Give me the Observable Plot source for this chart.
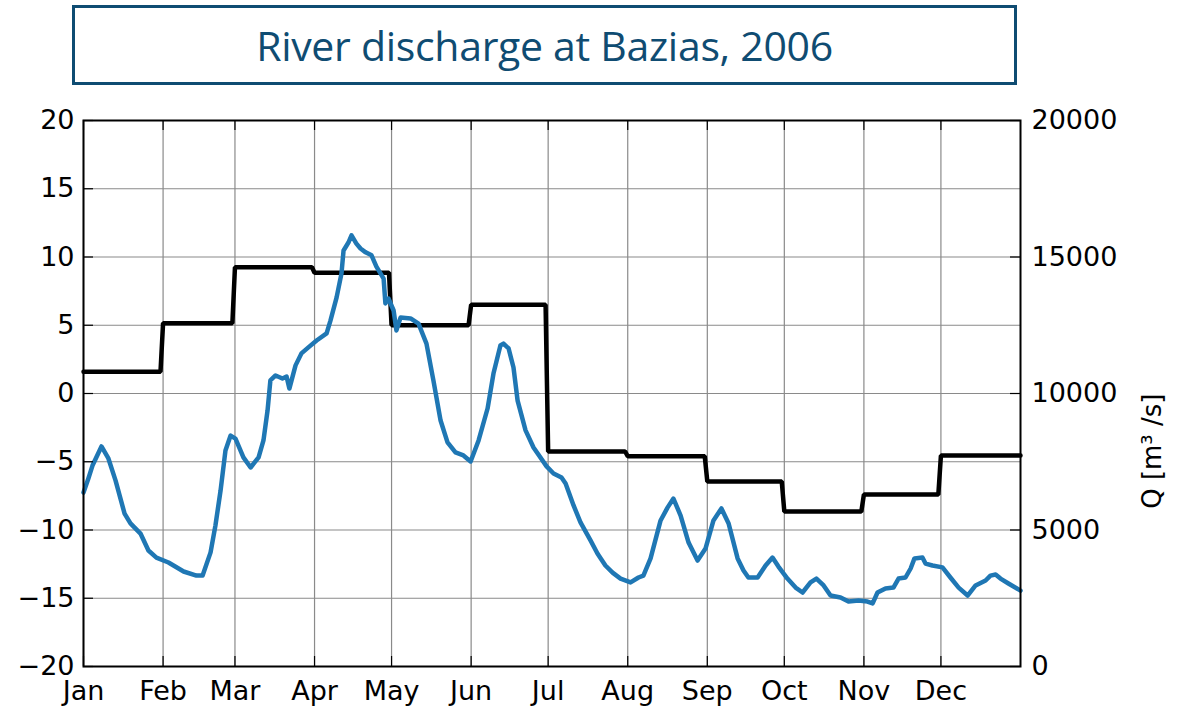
<!DOCTYPE html>
<html><head><meta charset="utf-8">
<script src="https://cdn.jsdelivr.net/npm/d3@7"></script>
<script src="https://cdn.jsdelivr.net/npm/@observablehq/plot@0.6"></script>
<style>
body{margin:0;background:#fff;width:1177px;height:709px;overflow:hidden;position:relative;}
#title{position:absolute;left:72px;top:5px;width:939px;height:74px;border:3px solid #0f4c72;display:flex;align-items:center;justify-content:center;font-family:"Open Sans";font-size:41px;color:#0f4c72;box-sizing:content-box;letter-spacing:-0.3px;}
#chart{position:absolute;left:0;top:100px;}
</style></head><body>
<div id="title">River discharge at Bazias, 2006</div>
<div id="chart"></div>
<script>
const year = 2006;
const monthNames = ["Jan","Feb","Mar","Apr","May","Jun","Jul","Aug","Sep","Oct","Nov","Dec"];
// monthly values (left axis)
const monthValue = [1.6, 5.15, 9.25, 8.85, 5.0, 6.5, -4.25, -4.6, -6.45, -8.65, -7.4, -4.55];
// daily discharge Q [m3/s]: day of year (0 = Jan 1) and value
const qDay = [0,1.9,3.5,7.0,9.7,12.5,16.0,18.3,22.2,25.3,28.4,33.1,39.0,44.0,46.4,49.5,51.4,53.4,55.3,57.3,59.2,62.3,65.1,68.2,70.1,71.7,72.8,74.8,77.5,79.1,80.2,82.6,84.9,87.6,90.8,94.7,96.2,98.6,100.5,101.3,103.2,104.4,106.3,107.9,109.9,112.2,114.1,116.9,117.6,118.8,120.8,121.9,123.5,127.4,130.5,133.6,136.3,139.1,141.8,144.9,148.0,150.8,153.9,157.4,159.7,162.4,163.6,165.6,167.5,169.1,172.2,175.3,180.4,183.1,186.2,187.8,190.9,193.6,197.5,200.2,203.3,206.1,209.2,213.1,216.2,218.1,220.9,224.8,227.5,229.8,232.6,235.7,239.2,242.3,245.4,248.5,251.3,254.8,257.1,259.0,262.6,265.7,268.4,270.7,274.2,277.4,280.1,283.2,285.5,288.3,291.0,294.9,298.0,301.9,305.4,307.4,309.3,312.4,315.5,317.5,320.2,322.2,323.7,326.8,328.0,330.7,334.6,337.7,340.9,344.4,347.5,351.4,353.3,355.3,357.2,360.3,365.0];
const qValue = [6370,6890,7360,8060,7620,6810,5600,5240,4870,4250,3990,3810,3480,3330,3330,4180,5170,6450,7910,8460,8350,7660,7290,7660,8280,9380,10480,10660,10550,10620,10180,11030,11470,11690,11940,12200,12670,13520,14400,15240,15530,15790,15490,15310,15170,15060,14650,14210,13300,13480,13040,12310,12780,12750,12560,11830,10480,9010,8210,7840,7730,7510,8280,9450,10730,11760,11830,11650,10950,9740,8650,8020,7330,7070,6920,6700,5900,5280,4620,4140,3700,3440,3220,3080,3260,3330,3960,5350,5820,6150,5530,4540,3880,4320,5350,5790,5240,3960,3520,3260,3260,3700,3990,3660,3220,2890,2710,3080,3220,2970,2600,2530,2380,2420,2380,2310,2710,2860,2890,3220,3260,3590,3960,3990,3770,3700,3630,3260,2890,2600,2970,3150,3330,3370,3220,3040,2780];
const leftTicks = [-20,-15,-10,-5,0,5,10,15,20];
const rightTicks = [0,5000,10000,15000,20000];
const yLabelRight = "Q [m\u00B3 /s]";

const DAY = 864e5;
const t0 = Date.UTC(year,0,1);
const monthStarts = d3.range(12).map(m => new Date(Date.UTC(year,m,1)));
const yearEnd = new Date(Date.UTC(year+1,0,1));
const qToLeft = q => q/500 - 20;

const steps = [];
monthValue.forEach((v,i) => {
  const s = monthStarts[i];
  const e = i < 11 ? new Date(+monthStarts[i+1] - DAY) : yearEnd;
  steps.push({date: s, v}, {date: e, v});
});
const flow = qDay.map((d,i) => ({date: new Date(t0 + d*DAY), q: qValue[i]}));
const fmt = d => d < 0 ? "\u2212" + (-d) : String(d);

const chart = Plot.plot({
  width: 1177, height: 609,
  marginLeft: 83, marginRight: 157, marginTop: 20, marginBottom: 43,
  style: {fontFamily: "DejaVu Sans", fontSize: "27px", color: "black", background: "white"},
  x: {type: "utc", domain: [new Date(t0), yearEnd]},
  y: {domain: [-20, 20]},
  marks: [
    Plot.gridX(monthStarts, {stroke: "#8a8a8a", strokeOpacity: 1, strokeWidth: 1.2}),
    Plot.gridY(leftTicks, {stroke: "#8a8a8a", strokeOpacity: 1, strokeWidth: 1.2}),
    Plot.line(steps, {x: "date", y: "v", stroke: "black", strokeWidth: 4.5, strokeLinejoin: "miter"}),
    Plot.line(flow, {x: "date", y: d => qToLeft(d.q), stroke: "#1f77b4", strokeWidth: 4.5, strokeLinejoin: "round", curve: "linear"}),
    Plot.tickY(leftTicks, {y: d => d, insetRight: 927, stroke: "black", strokeWidth: 1.2}),
    Plot.tickY(rightTicks, {y: d => qToLeft(d), insetLeft: 927, stroke: "black", strokeWidth: 1.2}),
    Plot.tickX(monthStarts, {x: d => d, insetTop: 536, stroke: "black", strokeWidth: 1.2}),
    Plot.tickX(monthStarts, {x: d => d, insetBottom: 536, stroke: "black", strokeWidth: 1.2}),
    Plot.frame({stroke: "black", strokeWidth: 2}),
    Plot.axisY({ticks: leftTicks, anchor: "left", tickSize: 0, tickPadding: 9, tickFormat: fmt, fontSize: 27, label: null}),
    Plot.axisY({ticks: rightTicks.map(qToLeft), anchor: "right", tickSize: 0, tickPadding: 11, tickFormat: d => String(Math.round((d+20)*500)), fontSize: 27, label: null}),
    Plot.axisX({ticks: monthStarts, tickSize: 0, tickPadding: 14, tickFormat: d3.utcFormat("%b"), fontSize: 27, label: null}),
    Plot.text([yLabelRight], {frameAnchor: "right", dx: 132, rotate: -90, fontSize: 26, text: d => d})
  ]
});
document.getElementById("chart").appendChild(chart);
</script>
</body></html>
